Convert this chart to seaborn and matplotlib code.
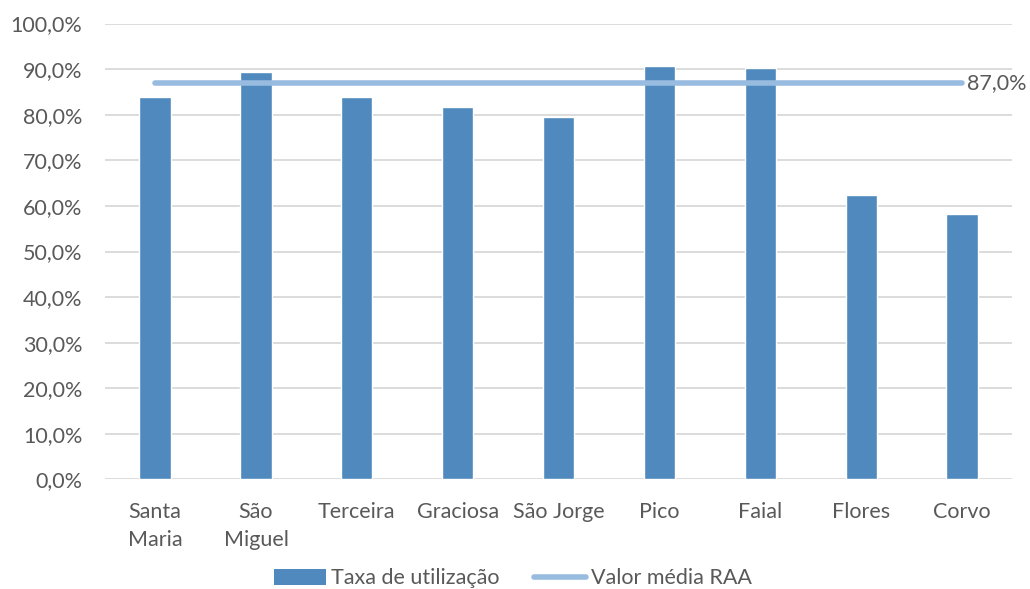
import matplotlib
matplotlib.use("Agg")
import matplotlib.pyplot as plt
import seaborn as sns
import numpy as np
import pandas as pd
from matplotlib.patches import Patch
from matplotlib.lines import Line2D

# Dados
ilhas = ["Santa Maria", "São Miguel", "Terceira", "Graciosa", "São Jorge",
         "Pico", "Faial", "Flores", "Corvo"]
rotulos = ["Santa\nMaria", "São\nMiguel", "Terceira", "Graciosa", "São Jorge",
           "Pico", "Faial", "Flores", "Corvo"]
taxa = [83.8, 89.3, 84.0, 81.8, 79.5, 90.8, 90.3, 62.4, 58.3]
media_raa = 87.0
yticks = [0, 10, 20, 30, 40, 50, 60, 70, 80, 90, 100]

cor_barra = "#4f89bd"
cor_linha = "#98bbe0"
cor_texto = "#595959"
fs = 15.5

sns.set_theme(style="white")
plt.rcParams['font.family'] = ['Lato', 'DejaVu Sans']

df = pd.DataFrame({"ilha": ilhas, "taxa": taxa})

fig = plt.figure(figsize=(10.30, 5.89), dpi=100)
ax = fig.add_axes([0.1016, 0.186, 0.8814, 0.774])

sns.barplot(data=df, x="ilha", y="taxa", color=cor_barra, width=0.31,
            saturation=1, ax=ax, zorder=3)

# linha da media
pos = np.arange(len(ilhas))
ax.plot(pos, [media_raa] * len(ilhas), color=cor_linha, lw=4,
        solid_capstyle="round", zorder=4)
ax.text(pos[-1] + 0.05, media_raa, f"{media_raa:.1f}%".replace(".", ","),
        color=cor_texto, fontsize=fs, va="center", ha="left")

ax.set_xlim(-0.5, len(ilhas) - 0.5)
ax.set_ylim(0, 100)
ax.set_yticks(yticks)
ax.set_yticklabels([f"{v:.1f}%".replace(".", ",") for v in yticks])
ax.set_xticks(pos)
ax.set_xticklabels(rotulos, linespacing=1.5)
ax.set_xlabel("")
ax.set_ylabel("")
ax.yaxis.grid(True, color="#d9d9d9", lw=1.3, zorder=0)
ax.tick_params(axis="both", length=0, labelsize=fs, colors=cor_texto)
ax.tick_params(axis="x", pad=16)
ax.tick_params(axis="y", pad=16)
for s in ax.spines.values():
    s.set_visible(False)

handles = [Patch(facecolor=cor_barra, edgecolor="none"),
           Line2D([0], [0], color=cor_linha, lw=4, solid_capstyle="round")]
fig.legend(handles, ["Taxa de utilização", "Valor média RAA"],
           loc="center", bbox_to_anchor=(0.498, 0.018), ncol=2, frameon=False,
           fontsize=fs, labelcolor=cor_texto, handlelength=2.4,
           handletextpad=0.25, columnspacing=1.6, handleheight=0.75)

fig.savefig("out.png", dpi=100)
